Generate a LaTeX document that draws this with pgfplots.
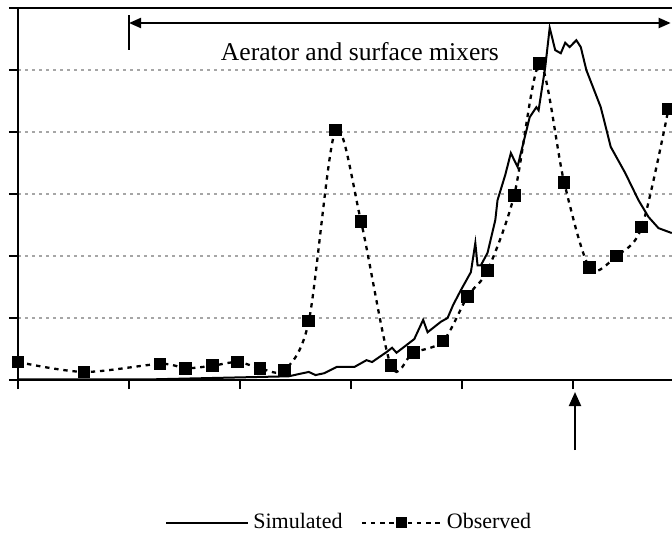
\documentclass[border=0pt]{standalone}
\usepackage{pgfplots}
\pgfplotsset{compat=1.18}
\usepackage{fontspec}
\setmainfont{Liberation Serif}
\usetikzlibrary{arrows.meta}
\pgfplotsset{
  simleg/.style={legend image code/.code={\draw[##1] (0pt,0pt) -- (41pt,0pt);}},
  obsleg/.style={legend image code/.code={\draw[mark repeat=2,mark phase=2,mark size=2.2pt,##1] plot coordinates {(0pt,0pt) (20pt,0pt) (40pt,0pt)};}},
}
\begin{document}
\begin{tikzpicture}
\path[use as bounding box] (0,0) rectangle (336pt,268pt);
\begin{axis}[
  at={(9pt,78pt)}, anchor=south west,
  scale only axis, width=329pt, height=186pt,
  xmin=0, xmax=5.928, ymin=0, ymax=6,
  xtick={0,1,2,3,4,5}, ytick={0,1,2,3,4,5,6},
  xticklabels={}, yticklabels={},
  tick align=outside, tick pos=left,
  major tick length=4.5pt,
  axis line style={line width=1.1pt},
  every tick/.style={black, line width=1.1pt},
  ymajorgrids,
  grid style={gray!70, line width=0.7pt, dash pattern=on 1.5pt off 2pt},
  clip=false,
  legend columns=2,
  legend style={draw=none, fill=none, at={(0.505,-0.384)}, anchor=center,
    font=\fontsize{11}{13}\selectfont,
    /tikz/every even column/.append style={column sep=7pt}},
]
\addplot[black, line width=1pt, simleg]
coordinates {
(0,0.01) (1.19,0.01) (2.44,0.06) (2.54,0.10) (2.62,0.13) (2.68,0.08) (2.76,0.11)
(2.87,0.21) (3.03,0.21) (3.14,0.32) (3.19,0.29) (3.32,0.45) (3.37,0.52) (3.41,0.44)
(3.57,0.66) (3.65,0.97) (3.69,0.77) (3.81,0.94) (3.87,1.00) (3.92,1.21) (3.99,1.45)
(4.08,1.74) (4.12,2.21) (4.14,1.85) (4.17,1.85) (4.23,2.05) (4.30,2.58) (4.32,2.90)
(4.39,3.31) (4.44,3.66) (4.50,3.44) (4.61,4.24) (4.67,4.40) (4.69,4.35) (4.75,5.05)
(4.79,5.68) (4.84,5.32) (4.89,5.27) (4.93,5.44) (4.97,5.37) (5.03,5.48) (5.07,5.37)
(5.12,5.00) (5.25,4.40) (5.34,3.76) (5.47,3.34) (5.59,2.90) (5.68,2.63) (5.77,2.45)
(5.89,2.37)
};
\addlegendentry{Simulated}
\addplot[black, line width=1.15pt, dash pattern=on 2.2pt off 2.4pt, smooth, tension=0.5,
  mark=square*, mark size=2.6pt, mark options={solid}, obsleg]
coordinates {
(0,0.29) (0.595,0.13) (1.28,0.26) (1.51,0.19) (1.75,0.23) (1.98,0.29) (2.18,0.19)
(2.40,0.16) (2.62,0.95) (2.86,4.03) (3.09,2.56) (3.36,0.23) (3.56,0.44) (3.83,0.63)
(4.05,1.35) (4.23,1.77) (4.47,2.98) (4.70,5.10) (4.92,3.19) (5.15,1.81) (5.39,2.00)
(5.62,2.47) (5.86,4.37)
};
\addlegendentry{Observed}
\draw[line width=1pt, {Triangle[length=6pt,width=5pt]}-{Triangle[length=6pt,width=5pt]}]
  (axis cs:1,5.758) -- (axis cs:5.88,5.758);
\draw[line width=1pt] (axis cs:1,5.887) -- (axis cs:1,5.323);
\node[anchor=base, font=\fontsize{12.8}{15}\selectfont] at (axis cs:3.08,5.161) {Aerator and surface mixers};
\draw[line width=1pt, -{Triangle[length=7pt,width=6pt]}]
  (axis cs:5.018,-1.129) -- (axis cs:5.018,-0.194);
\end{axis}
\end{tikzpicture}
\end{document}
